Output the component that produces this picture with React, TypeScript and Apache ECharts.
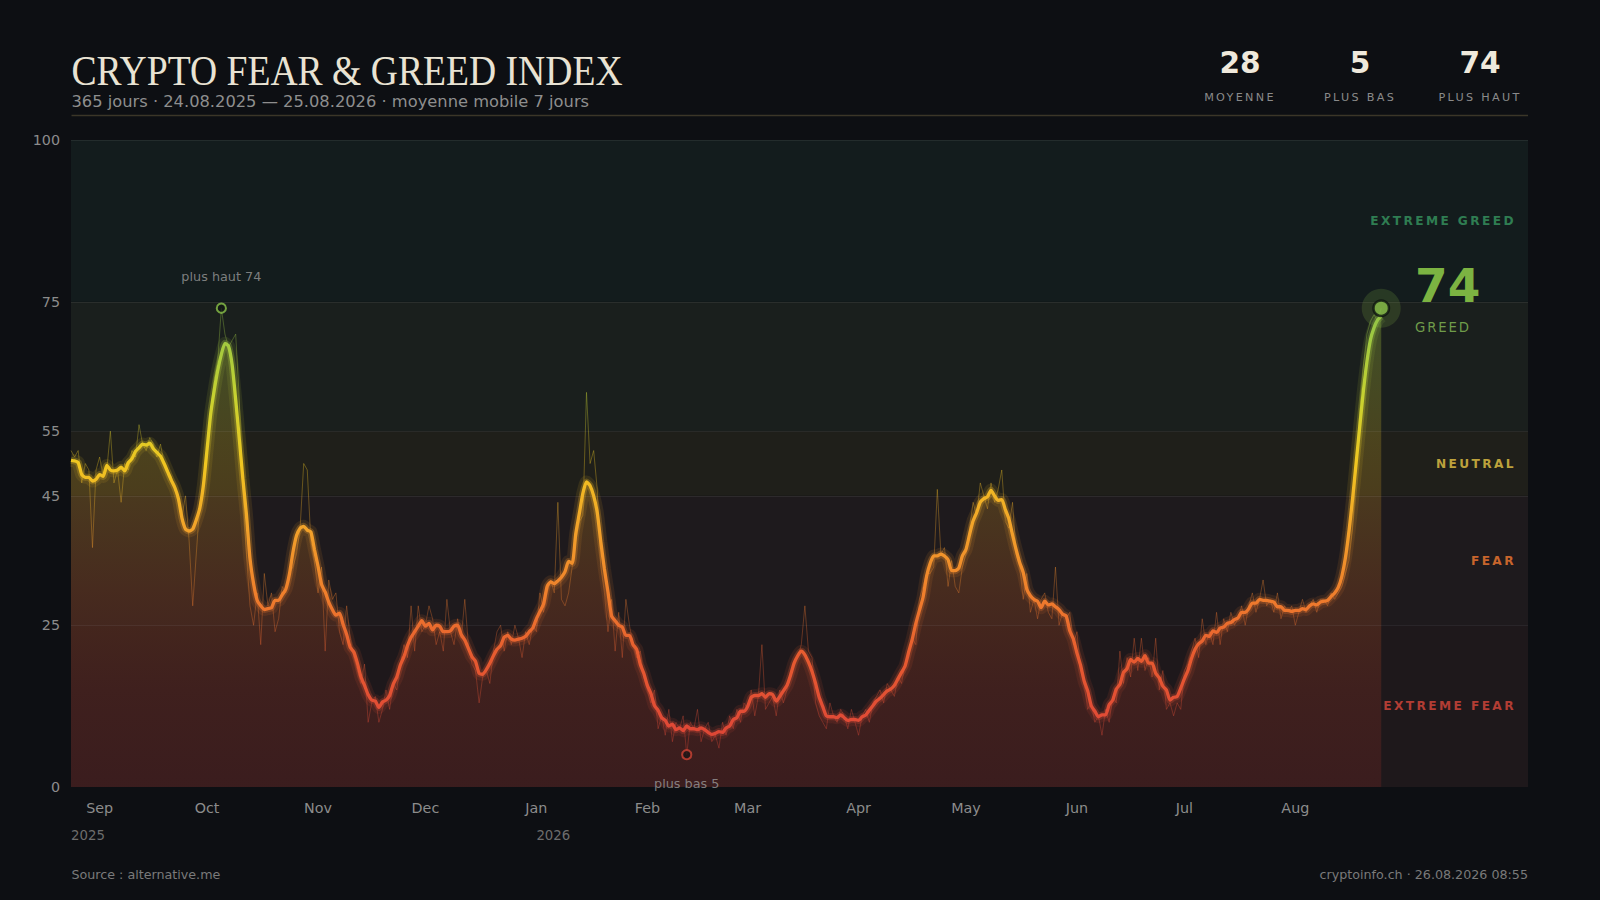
import React, { useEffect, useRef } from "react";
import * as echarts from "echarts";

// ---------- data ----------
const startDate = [2025, 7, 24]; // 24.08.2025 (month is 0-based)
const axisSpanDays = 407;
const maWindow = 7;

// daily Fear & Greed index values, 24.08.2025 -> 25.08.2026
const dailyIndex: number[] = [
  52, 51, 52, 47, 50, 49, 37, 49, 51, 48,
  49, 55, 47, 49, 44, 50, 49, 52, 51, 56,
  53, 52, 54, 53, 51, 53, 50, 49, 48, 46,
  44, 42, 45, 38, 28, 36, 44, 46, 52, 58,
  63, 66, 74, 70, 68, 69, 70, 60, 46, 36,
  28, 25, 30, 22, 33, 28, 30, 24, 26, 31,
  30, 33, 34, 36, 40, 50, 49, 38, 35, 30,
  34, 21, 32, 29, 30, 24, 22, 28, 23, 20,
  18, 16, 19, 10, 13, 14, 10, 12, 15, 12,
  16, 15, 19, 22, 20, 28, 21, 28, 24, 25,
  28, 26, 22, 24, 21, 29, 24, 22, 26, 23,
  29, 22, 19, 18, 13, 17, 18, 16, 21, 24,
  25, 21, 24, 22, 25, 23, 20, 24, 22, 25,
  24, 30, 27, 30, 32, 30, 44, 29, 28, 30,
  34, 38, 41, 42, 61, 50, 52, 46, 34, 30,
  24, 29, 21, 27, 20, 29, 25, 22, 20, 21,
  17, 15, 13, 15, 9, 11, 8, 12, 7, 10,
  9, 11, 5, 10, 9, 12, 7, 9, 10, 7,
  8, 6, 10, 8, 11, 9, 12, 10, 13, 12,
  15, 11, 14, 22, 12, 13, 14, 11, 15, 13,
  15, 17, 19, 20, 22, 28, 21, 20, 13, 11,
  10, 9, 13, 11, 10, 12, 11, 9, 12, 10,
  8, 11, 12, 10, 13, 14, 15, 13, 16, 15,
  14, 17, 16, 19, 20, 23, 22, 29, 31, 33,
  33, 34, 46, 36, 37, 31, 35, 31, 30, 34,
  36, 40, 44, 42, 47, 45, 43, 47, 44, 46,
  49, 41, 40, 44, 36, 34, 29, 33, 27, 29,
  26, 29, 30, 27, 26, 34, 25, 27, 26, 27,
  22, 24, 18, 16, 12, 13, 10, 11, 8, 12,
  10, 14, 13, 21, 16, 20, 17, 23, 18, 23,
  18, 20, 17, 23, 15, 18, 12, 13, 11, 13,
  12, 18, 19, 21, 23, 20, 26, 22, 24, 22,
  27, 22, 26, 24, 27, 25, 26, 28, 25, 28,
  30, 27, 29, 32, 28, 29, 27, 30, 26, 28,
  27, 28, 25, 27, 29, 27, 28, 29, 27, 29,
  29, 28, 30, 29, 30, 31, 33, 35, 40, 50,
  58, 65, 70, 72, 73, 72, 74,
];

const yTickValues = [0, 25, 45, 55, 75, 100];
const zoneEdges = [0, 25, 45, 55, 75, 100];
const zoneNames = ["EXTREME FEAR", "FEAR", "NEUTRAL", "GREED", "EXTREME GREED"];
const zoneShowLabel = [true, true, true, false, true];
const zoneBg = ["#1e181b", "#1e1a1d", "#1f1f1a", "#1a1f1d", "#131c1d"];
const zoneLabelColors = ["#b23d34", "#c8652c", "#bda23c", "#7cb342", "#2f7d52"];
const monthNames = ["Jan", "Feb", "Mar", "Apr", "May", "Jun", "Jul", "Aug", "Sep", "Oct", "Nov", "Dec"];
const lineColorStops = ["#d83a30", "#e04a36", "#e65a30", "#ef7f2c", "#f2a22a", "#f0c620", "#c8d230", "#9cc842", "#86be4c"];

const titleText = "CRYPTO FEAR & GREED INDEX";
const subtitleText = "365 jours · 24.08.2025 — 25.08.2026 · moyenne mobile 7 jours";
const statLabels = ["MOYENNE", "PLUS BAS", "PLUS HAUT"];
const sourceText = "Source : alternative.me";
const stampText = "cryptoinfo.ch · 26.08.2026 08:55";
const highLabel = "plus haut";
const lowLabel = "plus bas";

// ---------- helpers ----------
const dayTs = (i: number) => new Date(startDate[0], startDate[1], startDate[2] + i).getTime();

function centeredMA(vals: number[], w: number) {
  const h = Math.floor(w / 2);
  return vals.map((_, i) => {
    let s = 0;
    let n = 0;
    for (let j = i - h; j <= i + h; j++) {
      if (j >= 0 && j < vals.length) {
        s += vals[j];
        n++;
      }
    }
    return s / n;
  });
}

const SANS = '"DejaVu Sans", "Noto Sans", sans-serif';
const spacedTexts: Record<string, number> = {
  MOYENNE: 2.3,
  "PLUS BAS": 2.3,
  "PLUS HAUT": 2.3,
  GREED: 1.9,
  "EXTREME GREED": 2.4,
  NEUTRAL: 2.4,
  FEAR: 2.4,
  "EXTREME FEAR": 2.4,
};

export default function App() {
  const ref = useRef<HTMLDivElement>(null);

  useEffect(() => {
    if (!ref.current) return;
    const el = ref.current;
    const chart = echarts.init(el, undefined, { renderer: "svg" });

    const ma = centeredMA(dailyIndex, maWindow);
    const rawPairs = dailyIndex.map((v, i) => [dayTs(i), v]);
    const maPairs = ma.map((v, i) => [dayTs(i), Math.round(v * 100) / 100]);
    const n = dailyIndex.length;
    const lastTs = dayTs(n - 1);
    const lastVal = dailyIndex[n - 1];
    const maxVal = Math.max(...dailyIndex);
    const minVal = Math.min(...dailyIndex);
    const maxIdx = dailyIndex.indexOf(maxVal);
    const minIdx = dailyIndex.indexOf(minVal);
    const meanVal = Math.round(dailyIndex.reduce((a, b) => a + b, 0) / n);
    let zoneIdx = 0;
    for (let i = 0; i < zoneNames.length; i++) if (lastVal >= zoneEdges[i]) zoneIdx = i;

    const gridLeft = 71;
    const gridRightX = 1528;
    const gridTop = 140;
    const gridBottomY = 787;

    const areaGradient = new echarts.graphic.LinearGradient(
      0, gridTop, 0, gridBottomY,
      [
        { offset: 0, color: "rgba(130,190,70,0.40)" },
        { offset: 0.26, color: "rgba(135,180,60,0.34)" },
        { offset: 0.45, color: "rgba(190,165,40,0.28)" },
        { offset: 0.55, color: "rgba(200,145,35,0.26)" },
        { offset: 0.7, color: "rgba(200,95,35,0.24)" },
        { offset: 0.85, color: "rgba(180,60,40,0.22)" },
        { offset: 1, color: "rgba(160,45,40,0.22)" },
      ],
      true
    );

    const option: any = {
      animation: false,
      backgroundColor: "#0d0f13",
      textStyle: { fontFamily: SANS },
      grid: { left: gridLeft, right: 1600 - gridRightX, top: gridTop, bottom: 900 - gridBottomY, containLabel: false },
      xAxis: {
        type: "time",
        min: dayTs(0),
        max: dayTs(axisSpanDays),
        splitNumber: 14,
        axisLine: { show: false },
        axisTick: { show: false },
        splitLine: { show: false },
        axisLabel: {
          color: "#8c8c8c",
          fontSize: 14.3,
          margin: 14,
          showMinLabel: false,
          showMaxLabel: false,
          formatter: (value: number) => {
            if (value > lastTs) return "";
            const d = new Date(value);
            return monthNames[d.getMonth()];
          },
        },
      },
      yAxis: {
        type: "value",
        min: 0,
        max: 100,
        interval: 5,
        axisLine: { show: false },
        axisTick: { show: false },
        splitLine: { show: false },
        axisLabel: {
          color: "#8c8c8c",
          fontSize: 14.3,
          margin: 11,
          formatter: (v: number) => (yTickValues.includes(v) ? String(v) : ""),
        },
      },
      visualMap: {
        type: "continuous",
        show: false,
        dimension: 1,
        min: 0,
        max: 80,
        seriesIndex: [2, 3, 4, 5],
        inRange: { color: lineColorStops },
      },
      series: [
        {
          name: "zones",
          type: "line",
          data: [],
          z: 1,
          silent: true,
          markArea: {
            silent: true,
            data: zoneNames.map((name, i) => [
              {
                yAxis: zoneEdges[i],
                itemStyle: { color: zoneBg[i], opacity: 1 },
                label: {
                  show: zoneShowLabel[i],
                  position: "insideRight",
                  offset: [-7, 0],
                  color: zoneLabelColors[i],
                  fontSize: 12.2,
                  fontWeight: "bold",
                  formatter: name,
                },
              },
              { yAxis: zoneEdges[i + 1] },
            ]),
          },
          markLine: {
            silent: true,
            symbol: ["none", "none"],
            label: { show: false },
            lineStyle: { color: "rgba(255,255,255,0.07)", type: "solid", width: 1 },
            data: zoneEdges.slice(1).map((v) => ({ yAxis: v })),
          },
        },
        {
          name: "area",
          type: "line",
          data: maPairs,
          z: 2,
          symbol: "none",
          smooth: 0.2,
          silent: true,
          lineStyle: { width: 0, opacity: 0 },
          areaStyle: { color: areaGradient, opacity: 1 },
        },
        {
          name: "daily",
          type: "line",
          data: rawPairs,
          z: 3,
          symbol: "none",
          silent: true,
          lineStyle: { width: 1, opacity: 0.35 },
        },
        {
          name: "glowOuter",
          type: "line",
          data: maPairs,
          z: 4,
          symbol: "none",
          smooth: 0.2,
          silent: true,
          lineStyle: { width: 13, opacity: 0.11 },
        },
        {
          name: "glowInner",
          type: "line",
          data: maPairs,
          z: 4,
          symbol: "none",
          smooth: 0.2,
          silent: true,
          lineStyle: { width: 7, opacity: 0.26 },
        },
        {
          name: "ma7",
          type: "line",
          data: maPairs,
          z: 5,
          symbol: "none",
          smooth: 0.2,
          silent: true,
          lineStyle: { width: 3.3 },
        },
        {
          name: "extremes",
          type: "scatter",
          z: 6,
          silent: true,
          symbol: "circle",
          symbolSize: 9.2,
          data: [
            {
              value: [dayTs(maxIdx), maxVal],
              itemStyle: { color: "#111614", borderColor: "#8bc34a", borderWidth: 2 },
              label: {
                show: true,
                position: "top",
                distance: 19.5,
                formatter: `${highLabel} ${maxVal}`,
                color: "#9a9a9a",
                fontSize: 12.8,
              },
            },
            {
              value: [dayTs(minIdx), minVal],
              itemStyle: { color: "#1d1517", borderColor: "#d04434", borderWidth: 2 },
              label: {
                show: true,
                position: "bottom",
                distance: 16.5,
                formatter: `${lowLabel} ${minVal}`,
                color: "#9a9a9a",
                fontSize: 12.8,
              },
            },
          ],
        },
        {
          name: "currentHalo",
          type: "scatter",
          z: 6,
          silent: true,
          symbolSize: 39,
          itemStyle: { color: "rgba(139,195,74,0.22)" },
          data: [[lastTs, lastVal]],
        },
        {
          name: "current",
          type: "scatter",
          z: 7,
          silent: true,
          symbolSize: 15.5,
          itemStyle: { color: "#8bc34a", borderColor: "#0e1510", borderWidth: 2.5 },
          data: [[lastTs, lastVal]],
        },
      ],
    };

    chart.setOption(option);

    const cur = chart.convertToPixel({ seriesIndex: 8 }, [lastTs, lastVal]) as number[];
    const cx = cur[0];
    const cy = cur[1];
    const xStart = chart.convertToPixel({ xAxisIndex: 0 }, dayTs(0)) as number;
    const jan = new Date(2026, 0, 1).getTime();
    const xJan = chart.convertToPixel({ xAxisIndex: 0 }, jan) as number;
    const statValues = [meanVal, minVal, maxVal];
    const statX = [1240, 1360, 1480];

    const graphics: any[] = [
      {
        type: "text",
        x: 71.5,
        y: 71,
        scaleX: 0.896,
        style: {
          x: 0,
          y: 0,
          text: titleText,
          fill: "#e9e3d3",
          font: '42px "Liberation Serif", "DejaVu Serif", serif',
          textVerticalAlign: "middle",
        },
      },
      {
        type: "text",
        x: 71.5,
        y: 101,
        style: { text: subtitleText, fill: "#8e8e8e", font: `16.3px ${SANS}`, textVerticalAlign: "middle" },
      },
      {
        type: "line",
        shape: { x1: 71.5, y1: 115.5, x2: gridRightX, y2: 115.5 },
        style: { stroke: "#3b3628", lineWidth: 1.5 },
      },
      ...statValues.map((v, i) => ({
        type: "text",
        x: statX[i],
        y: 62.5,
        style: {
          text: String(v),
          fill: "#efe9dc",
          font: `bold 29.6px ${SANS}`,
          textAlign: "center",
          textVerticalAlign: "middle",
        },
      })),
      ...statLabels.map((t, i) => ({
        type: "text",
        x: statX[i],
        y: 97,
        style: { text: t, fill: "#8a8a8a", font: `11.2px ${SANS}`, textAlign: "center", textVerticalAlign: "middle" },
      })),
      {
        type: "text",
        x: cx + 33.7,
        y: cy - 22.4,
        style: {
          text: String(lastVal),
          fill: "#7cb342",
          font: `bold 47px ${SANS}`,
          textVerticalAlign: "middle",
        },
      },
      {
        type: "text",
        x: cx + 33.7,
        y: cy + 19.5,
        style: { text: zoneNames[zoneIdx], fill: "#6f9c4a", font: `13.3px ${SANS}`, textVerticalAlign: "middle" },
      },
      {
        type: "text",
        x: xStart,
        y: 835.5,
        style: { text: String(new Date(dayTs(0)).getFullYear()), fill: "#6d6d6d", font: `13.3px ${SANS}`, textVerticalAlign: "middle" },
      },
      {
        type: "text",
        x: xJan,
        y: 835.5,
        style: { text: String(new Date(jan).getFullYear()), fill: "#6d6d6d", font: `13.3px ${SANS}`, textVerticalAlign: "middle" },
      },
      {
        type: "text",
        x: 71.5,
        y: 874.5,
        style: { text: sourceText, fill: "#7a7a7a", font: `12.7px ${SANS}`, textVerticalAlign: "middle" },
      },
      {
        type: "text",
        x: gridRightX,
        y: 874.5,
        style: { text: stampText, fill: "#7a7a7a", font: `12.7px ${SANS}`, textAlign: "right", textVerticalAlign: "middle" },
      },
    ].map((g) => ({ ...g, z: 100 }));
    chart.setOption({ graphic: graphics });

    const patch = () => {
      el.querySelectorAll("text").forEach((t) => {
        const s = spacedTexts[(t.textContent || "").trim()];
        if (s) t.setAttribute("letter-spacing", String(s));
      });
    };
    chart.on("finished", patch);
    const timer = setTimeout(patch, 300);

    return () => {
      clearTimeout(timer);
      chart.dispose();
    };
  }, []);

  return (
    <div style={{ position: "fixed", left: 0, top: 0, width: 1600, height: 900, background: "#0d0f13" }}>
      <div ref={ref} style={{ width: 1600, height: 900 }} />
    </div>
  );
}
